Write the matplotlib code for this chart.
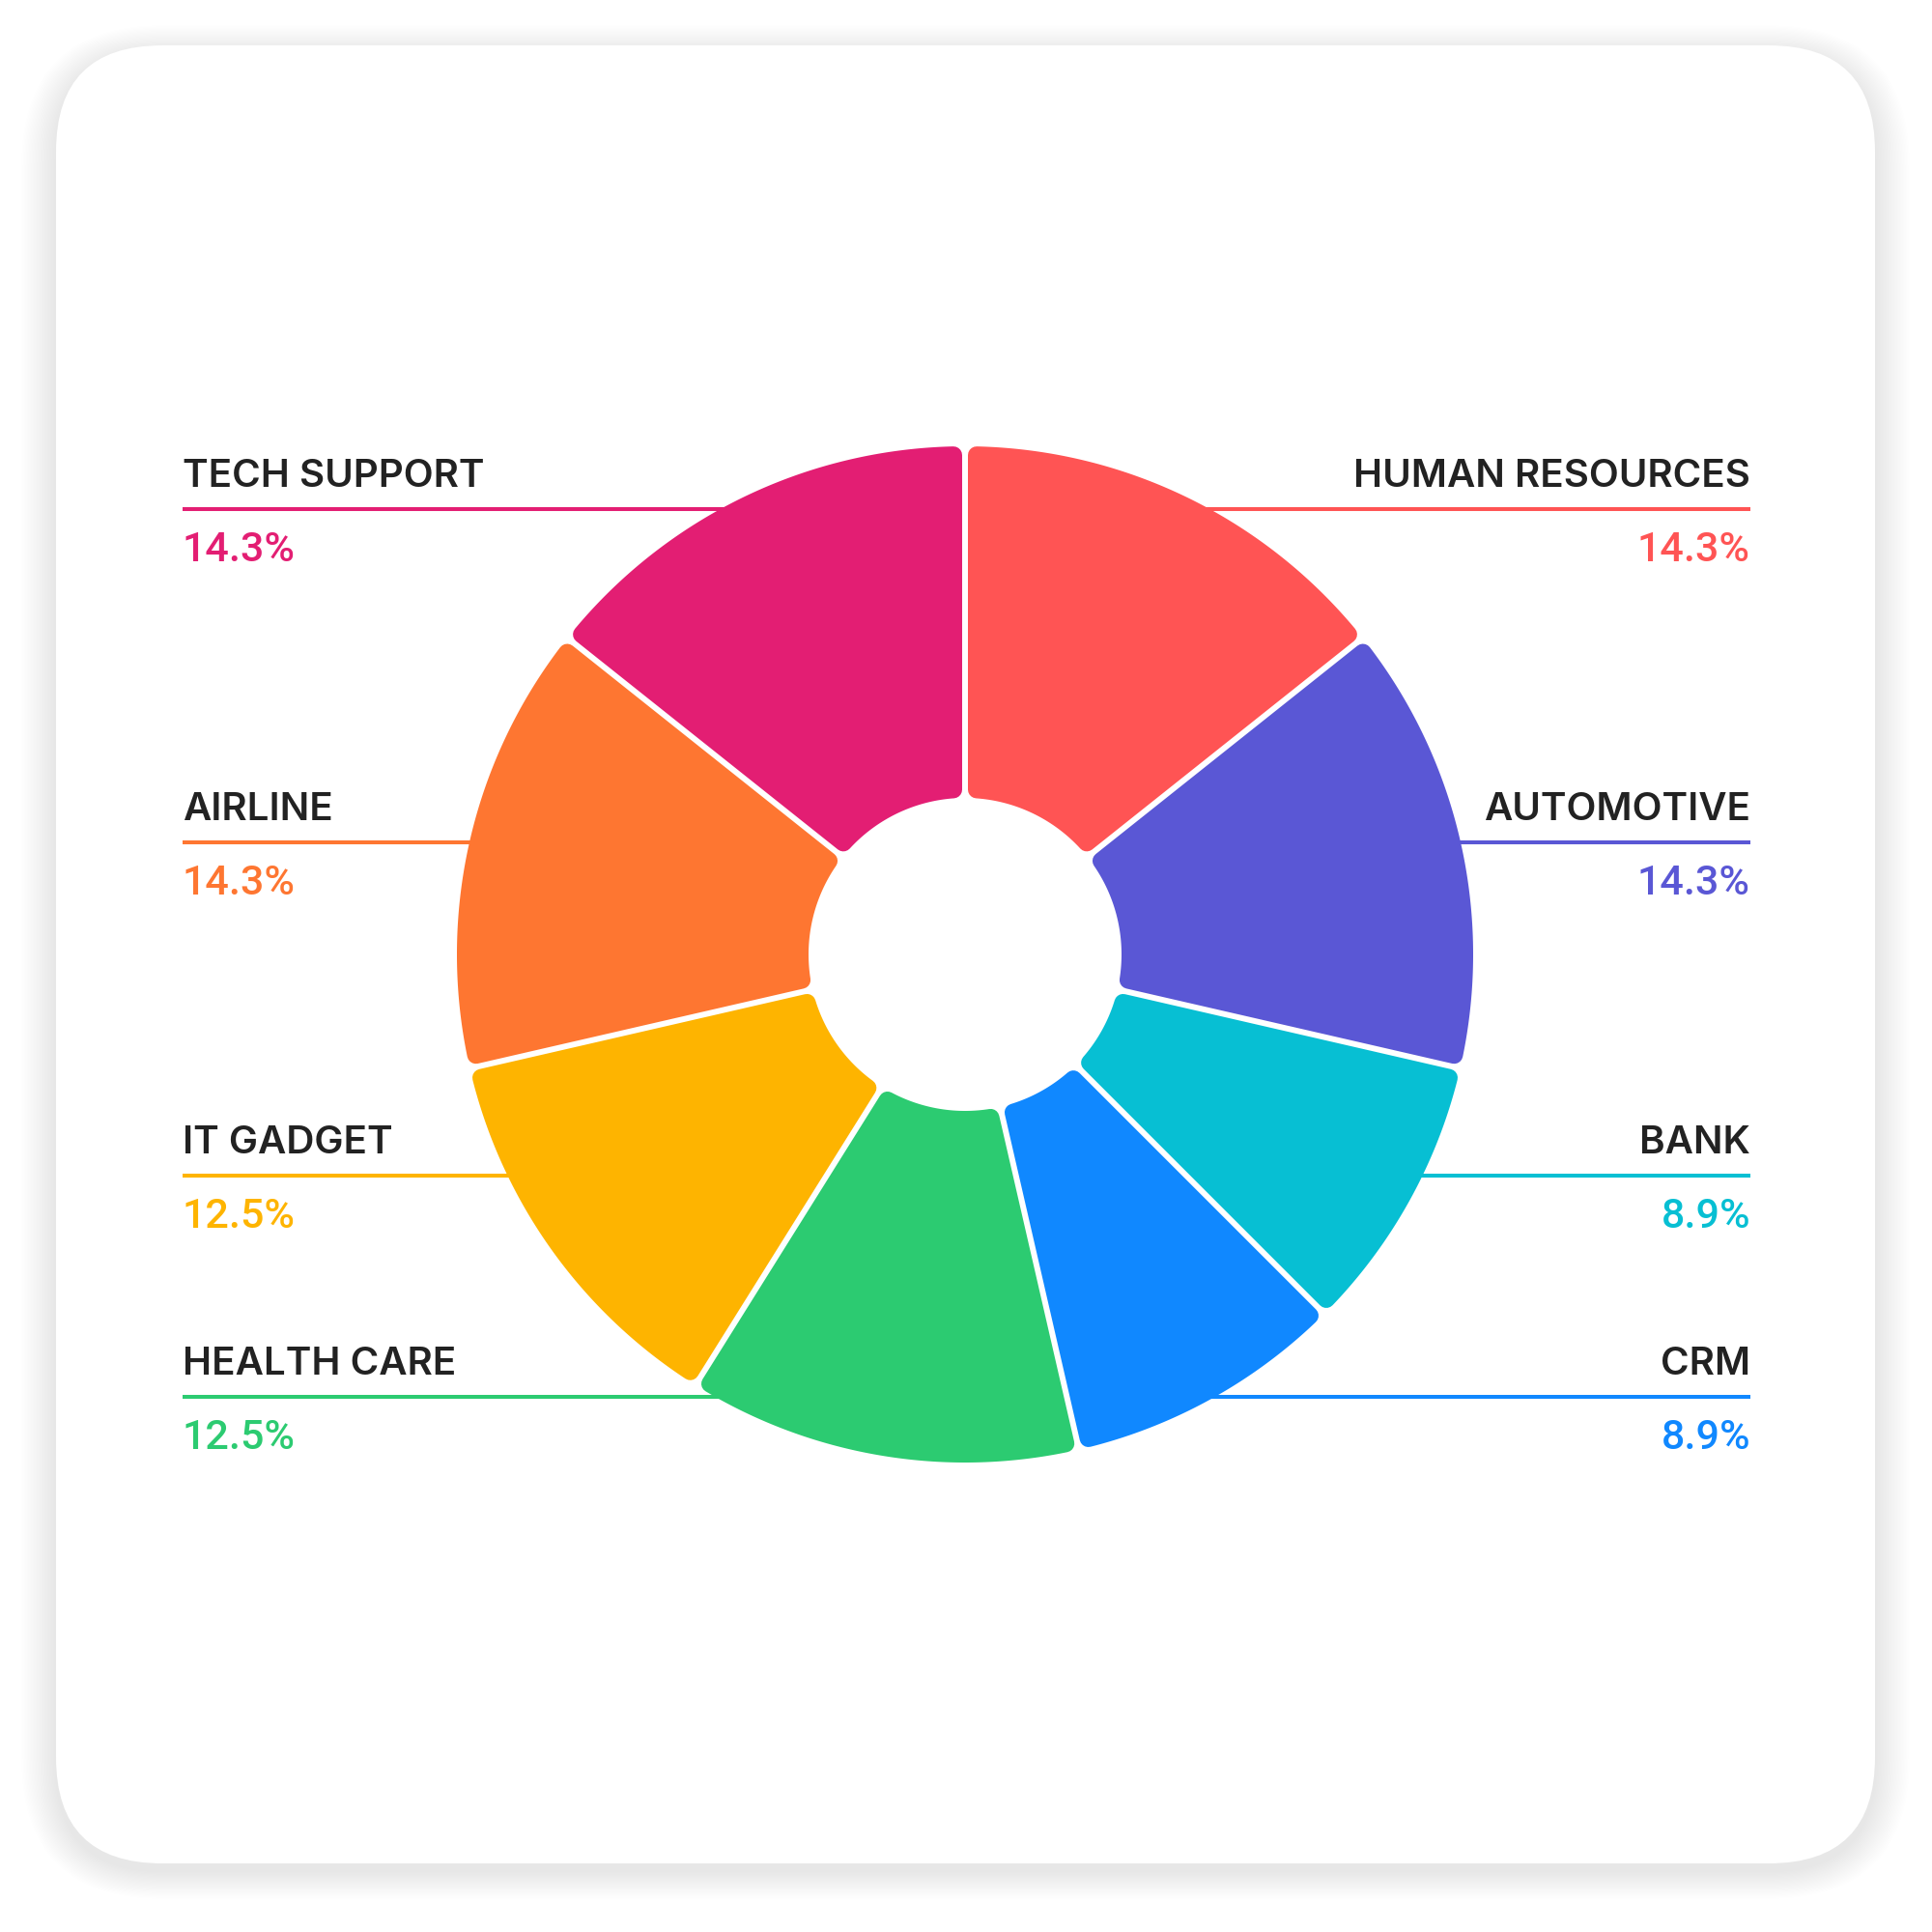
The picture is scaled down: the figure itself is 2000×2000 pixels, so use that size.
import numpy as np
import matplotlib.pyplot as plt
from matplotlib.patches import Polygon, FancyBboxPatch

# data
categories = ["HUMAN RESOURCES", "AUTOMOTIVE", "BANK", "CRM",
              "HEALTH CARE", "IT GADGET", "AIRLINE", "TECH SUPPORT"]
shares = [14.3, 14.3, 8.9, 8.9, 12.5, 12.5, 14.3, 14.3]
colors = ["#FF5454", "#5A57D5", "#07BFD3", "#1088FF",
          "#2CCB71", "#FEB400", "#FE7631", "#E31E73"]
# which side / row each label goes in
sides = ["right", "right", "right", "right", "left", "left", "left", "left"]
rows = [0, 1, 2, 3, 3, 2, 1, 0]

# layout (pixels, figure is 2000x2000)
W = 2000
cx, cy = 999, 988
R_out, R_in = 526, 162
gap = 6
corner = 9
row_y = [527, 872, 1217, 1446]
left_x, right_x = 189, 1812

plt.rcParams['font.family'] = ['Inter', 'DejaVu Sans']

fig = plt.figure(figsize=(20, 20), dpi=100)
ax = fig.add_axes([0, 0, 1, 1])
ax.set_xlim(0, W)
ax.set_ylim(W, 0)
ax.axis('off')

# card + soft shadow
card_x0, card_y0, card_x1, card_y1 = 58, 47, 1941, 1929
for i in range(24, 0, -1):
    sh = FancyBboxPatch((card_x0 - i * 1.5, card_y0 - i * 1.2 + 8),
                        card_x1 - card_x0 + i * 3, card_y1 - card_y0 + i * 2.4,
                        boxstyle="round,pad=0,rounding_size=%d" % (110 + i * 1.5),
                        fc='black', ec='none', alpha=0.003, zorder=0)
    ax.add_patch(sh)
card = FancyBboxPatch((card_x0, card_y0), card_x1 - card_x0, card_y1 - card_y0,
                      boxstyle="round,pad=0,rounding_size=110",
                      fc='white', ec='none', zorder=1)
ax.add_patch(card)


def wedge_pts(a1, a2, r_in, r_out, d):
    o = np.linspace(a1 + np.arcsin(d / r_out), a2 - np.arcsin(d / r_out), 200)
    i = np.linspace(a2 - np.arcsin(d / r_in), a1 + np.arcsin(d / r_in), 80)
    xs = np.concatenate([r_out * np.cos(o), r_in * np.cos(i)])
    ys = np.concatenate([r_out * np.sin(o), r_in * np.sin(i)])
    return np.column_stack([cx + xs, cy - ys])


# donut, clockwise from 12 o'clock
bounds = 90 - 360 * np.concatenate([[0], np.cumsum(shares)]) / sum(shares)
lw_pt = 2 * corner * 72 / 100
for k in range(len(shares)):
    a2 = np.radians(bounds[k])
    a1 = np.radians(bounds[k + 1])
    pts = wedge_pts(a1, a2, R_in + corner, R_out - corner, gap / 2 + corner)
    ax.add_patch(Polygon(pts, closed=True, fc=colors[k], ec=colors[k],
                         lw=lw_pt, joinstyle='round', zorder=5))

# labels with leader lines
for k in range(len(categories)):
    y = row_y[rows[k]]
    reach = np.sqrt(R_out ** 2 - (y - cy) ** 2)
    if sides[k] == "left":
        x_text, ha = left_x, 'left'
        x_end = cx - reach + 20
    else:
        x_text, ha = right_x, 'right'
        x_end = cx + reach - 20
    ax.plot([x_text, x_end], [y, y], color=colors[k], lw=2.9,
            solid_capstyle='butt', zorder=3)
    ax.text(x_text, y - 23, categories[k], ha=ha, va='baseline',
            fontsize=29, fontweight='semibold', color='#222222', zorder=6)
    ax.text(x_text, y + 54, "%.1f%%" % shares[k], ha=ha, va='baseline',
            fontsize=31, fontweight='medium', color=colors[k], zorder=6,
            family=['Roboto', 'DejaVu Sans'])

fig.savefig('out.png', dpi=100, facecolor='white')
